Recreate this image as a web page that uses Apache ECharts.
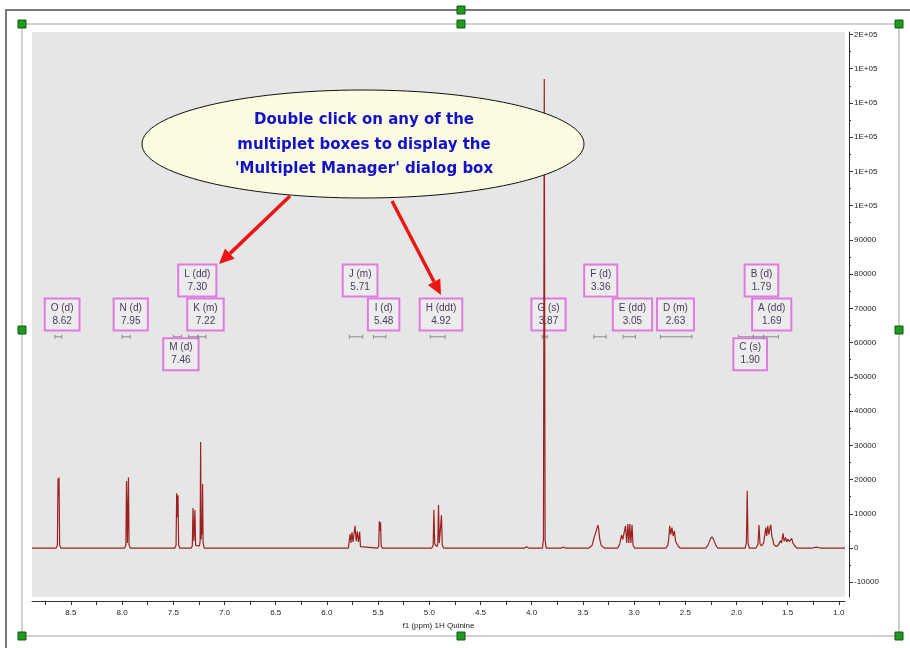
<!DOCTYPE html>
<html><head><meta charset="utf-8">
<script src="https://cdn.jsdelivr.net/npm/echarts@6/dist/echarts.min.js"></script>
<style>html,body{margin:0;padding:0;background:#fff}#c{width:910px;height:648px}</style>
</head><body><div id="c"></div>
<script>
// ---- spectrum: chemical shift (ppm) and intensity ----
const shiftPpm = [
 8.88,
 8.645,8.632,8.626,8.621,8.616,8.610,8.597,
 7.975,7.963,7.957,7.948,7.938,7.932,7.920,
 7.485,7.473,7.467,7.461,7.454,7.448,7.436,
 7.325,7.314,7.308,7.299,7.289,7.282,7.270,7.245,7.238,7.233,7.228,7.222,7.218,7.214,7.209,7.198,
 5.79,5.78,5.774,5.765,5.755,5.745,5.735,5.725,5.714,5.703,5.692,5.680,5.672,5.66,
 5.505,5.494,5.488,5.482,5.476,5.470,5.459,
 4.975,4.962,4.955,4.947,4.925,4.917,4.910,4.902,4.895,4.888,4.881,4.873,4.86,
 4.07,4.05,4.03,
 3.895,3.885,3.877,3.869,3.859,
 3.71,3.69,3.67,
 3.44,3.41,3.39,3.372,3.362,3.354,3.345,3.335,3.32,3.29,
 3.16,3.14,3.123,3.11,3.095,3.084,3.072,3.061,3.051,3.042,3.031,3.020,3.010,2.995,
 2.69,2.67,2.660,2.652,2.641,2.630,2.618,2.606,2.595,2.585,2.57,2.55,
 2.30,2.28,2.255,2.24,2.225,2.20,2.18,
 1.915,1.903,1.895,1.887,1.875,
 1.81,1.79,1.780,1.770,1.755,1.735,1.725,1.713,1.705,1.694,1.685,1.675,1.665,1.655,1.645,1.635,1.615,1.595,1.583,1.570,1.560,1.545,1.535,1.520,1.510,1.495,1.485,1.472,1.460,1.450,1.430,1.41,
 1.26,1.22,1.18,
 0.94
];
const intensity = [
 0,
 0,800,20300,15000,20600,800,0,
 0,900,19600,1500,20600,900,0,
 0,800,16000,9000,15400,800,0,
 0,700,11700,2000,11100,800,300,600,2000,31000,2500,7000,4000,18700,1500,0,
 0,300,4100,1500,4600,1800,1500,6500,2000,4900,1800,4750,400,0,
 0,600,7800,5000,7500,600,0,
 0,800,11200,1200,400,1200,12600,1500,1000,1500,9600,800,0,
 0,400,0,
 0,2500,137000,2500,0,
 0,300,0,
 0,800,3100,4800,5200,6700,5500,2500,700,0,
 0,1200,3800,2500,2800,6500,1500,7000,1500,7000,1500,6800,800,0,
 0,800,3000,6500,4000,6000,3500,5000,2000,2400,600,0,
 0,700,2600,3300,2600,700,0,
 0,1500,16700,1500,0,
 0,1000,6700,1200,600,1500,3500,6000,3500,6500,4000,4500,6800,3500,2500,1000,500,700,1200,2100,1500,4300,2000,3100,1800,2600,1900,2200,2800,1500,600,0,
 0,250,0,
 0
];

// ---- multiplets ----
const multLetter = ['O','N','M','L','K','J','I','H','G','F','E','D','C','B','A'];
const multType   = ['d','d','d','dd','m','m','d','ddt','s','d','dd','m','s','d','dd'];
const multShift  = [8.62,7.95,7.46,7.30,7.22,5.71,5.48,4.92,3.87,3.36,3.05,2.63,1.90,1.79,1.69];
const rangeFrom  = [8.655,8.00,7.50,7.35,7.26,5.78,5.545,4.99,3.897,3.393,3.107,2.743,1.98,1.835,1.735];
const rangeTo    = [8.59,7.92,7.42,7.26,7.18,5.65,5.425,4.845,3.848,3.273,2.987,2.435,1.835,1.735,1.59];

// ---- axis ticks / labels ----
const xTickLabels = [8.5,8.0,7.5,7.0,6.5,6.0,5.5,5.0,4.5,4.0,3.5,3.0,2.5,2.0,1.5,1.0];
const xTicks = [8.75,8.5,8.25,8.0,7.75,7.5,7.25,7.0,6.75,6.5,6.25,6.0,5.75,5.5,5.25,5.0,4.75,4.5,4.25,4.0,3.75,3.5,3.25,3.0,2.75,2.5,2.25,2.0,1.75,1.5,1.25,1.0];
const yTickLabels = [-10000,0,10000,20000,30000,40000,50000,60000,70000,80000,90000,100000,110000,120000,130000,140000,150000];
const yMinorTicks = [-5000,5000,15000,25000,35000,45000,55000,65000,75000,85000,95000,105000,115000,125000,135000,145000];

const calloutLines = ['Double click on any of the','multiplet boxes to display the',"'Multiplet Manager' dialog box"];
const xAxisTitle = 'f1 (ppm) 1H Quinine';

// ---- layout ----
const rowValue = {up:78100, mid:68200, low:56600};
const rowOf = {L:'up',J:'up',F:'up',B:'up',M:'low',C:'low'};
const barValue = 61700;

const chart = echarts.init(document.getElementById('c'), null, {renderer:'canvas'});

function arrow(x1,y1,x2,y2){
  const a = Math.atan2(y2-y1,x2-x1), L=15, W=7;
  const bx = x2-L*Math.cos(a), by = y2-L*Math.sin(a);
  return [
    {type:'line', z:30, shape:{x1:x1,y1:y1,x2:bx,y2:by}, style:{stroke:'#ee1515',lineWidth:3.5}},
    {type:'polygon', z:30, shape:{points:[[x2,y2],[bx+W*Math.sin(a),by-W*Math.cos(a)],[bx-W*Math.sin(a),by+W*Math.cos(a)]]}, style:{fill:'#ee1515'}}
  ];
}
const handles = [[22,24],[461,24],[899,24],[22,330],[899,330],[22,636],[461,636],[899,636],[461,10]].map(p=>({
  type:'rect', z:40, shape:{x:p[0]-4,y:p[1]-4,width:8,height:8}, style:{fill:'#1f9a1f',stroke:'#0d5a0d',lineWidth:1}
}));

const graphic = [
  {type:'polyline', z:1, shape:{points:[[6,648],[6,10],[910,10]]}, style:{stroke:'#7a7a7a',lineWidth:2,fill:null}},
  {type:'rect', z:1, shape:{x:22,y:24,width:877,height:612}, style:{stroke:'#d0d0d0',lineWidth:2,fill:null}},
  ...handles,
  {type:'ellipse', z:25, shape:{cx:363,cy:144,rx:221,ry:54}, style:{fill:'#fbfbe2',stroke:'#111',lineWidth:1}},
  {type:'text', z:26, x:364, y:145, style:{text:calloutLines.join('\n'), align:'center', verticalAlign:'middle',
     fontFamily:'DejaVu Sans', fontWeight:'bold', fontSize:15, lineHeight:24.5, fill:'#1212c8'}},
  ...arrow(290,196,219,264),
  ...arrow(392,201,441,295)
];

chart.setOption({
  animation:false,
  backgroundColor:'#ffffff',
  grid:{left:32,right:65,top:32,bottom:51,show:true,backgroundColor:'#e6e6e6',borderWidth:0},
  xAxis:{
    type:'value', inverse:true, min:0.94, max:8.88, offset:4,
    name:xAxisTitle, nameLocation:'middle', nameGap:15,
    nameTextStyle:{fontFamily:'Liberation Sans',fontSize:8,color:'#222'},
    axisLine:{show:true,onZero:false,lineStyle:{color:'#333',width:1}},
    axisTick:{show:true,length:4,customValues:xTicks,lineStyle:{color:'#333'}},
    axisLabel:{customValues:xTickLabels,margin:8,fontFamily:'Liberation Sans',fontSize:8,color:'#222',formatter:v=>v.toFixed(1)},
    splitLine:{show:false}
  },
  yAxis:[{
    type:'value', position:'right', min:-14300, max:150700, offset:4,
    axisLine:{show:true,onZero:false,lineStyle:{color:'#333',width:1}},
    axisTick:{show:true,length:4,customValues:yTickLabels,lineStyle:{color:'#333'}},
    axisLabel:{customValues:yTickLabels,margin:5,fontFamily:'Liberation Sans',fontSize:8,color:'#222',
      formatter:v=> v>=100000 ? Math.round(v/1e5)+'E+05' : String(v)},
    splitLine:{show:false}
  },{
    type:'value', position:'right', min:-14300, max:150700, offset:4,
    axisLine:{show:false,onZero:false},
    axisTick:{show:true,length:2,customValues:yMinorTicks,lineStyle:{color:'#333'}},
    axisLabel:{show:false},
    splitLine:{show:false}
  }],
  graphic: graphic,
  series:[{
    type:'custom', z:2, coordinateSystem:'cartesian2d', yAxisIndex:0,
    data: multShift.map((s,i)=>[s, rangeFrom[i], rangeTo[i]]),
    renderItem:(params, api)=>{
      const i = params.dataIndex;
      const letter = multLetter[i];
      const c = api.coord([api.value(0), rowValue[rowOf[letter]||'mid']]);
      const p1 = api.coord([api.value(1), barValue]);
      const p2 = api.coord([api.value(2), barValue]);
      const gs = {stroke:'#8c8c8c', lineWidth:1};
      return {type:'group', children:[
        {type:'line', shape:{x1:p1[0],y1:p1[1],x2:p2[0],y2:p2[1]}, style:gs},
        {type:'line', shape:{x1:p1[0],y1:p1[1]-2,x2:p1[0],y2:p1[1]+2}, style:gs},
        {type:'line', shape:{x1:p2[0],y1:p2[1]-2,x2:p2[0],y2:p2[1]+2}, style:gs},
        {type:'text', x:c[0]+3.5, y:c[1], style:{
          text: letter+' ('+multType[i]+')\n'+multShift[i].toFixed(2),
          align:'center', verticalAlign:'middle', fontFamily:'Liberation Sans', fontSize:10, lineHeight:13,
          fill:'#4a3a5c', backgroundColor:'#ececec', borderColor:'#e07ae0', borderWidth:2, padding:[2,5]
        }}
      ]};
    }
  },{
    type:'line', z:5, yAxisIndex:0, showSymbol:false, silent:true, clip:true,
    data: shiftPpm.map((p,i)=>[p, intensity[i]]),
    lineStyle:{color:'#9c2222',width:1.2}
  }]
});
</script></body></html>
